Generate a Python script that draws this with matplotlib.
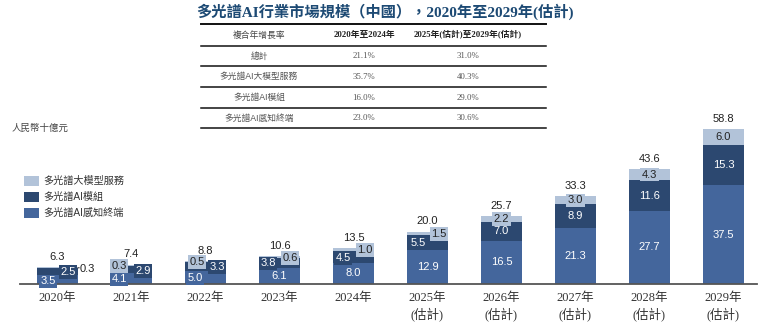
import matplotlib
matplotlib.use("Agg")
import matplotlib.pyplot as plt
import numpy as np

plt.rcParams['font.family'] = ['Liberation Sans', 'Noto Sans CJK TC', 'DejaVu Sans']

# ---------------- data ----------------
years = ["2020年", "2021年", "2022年", "2023年", "2024年",
         "2025年\n(估計)", "2026年\n(估計)", "2027年\n(估計)", "2028年\n(估計)", "2029年\n(估計)"]
terminal = [3.5, 4.1, 5.0, 6.1, 8.0, 12.9, 16.5, 21.3, 27.7, 37.5]   # 多光譜AI感知終端
module = [2.5, 2.9, 3.3, 3.8, 4.5, 5.5, 7.0, 8.9, 11.6, 15.3]       # 多光譜AI模組
service = [0.3, 0.3, 0.5, 0.6, 1.0, 1.5, 2.2, 3.0, 4.3, 6.0]        # 多光譜大模型服務
totals = [6.3, 7.4, 8.8, 10.6, 13.5, 20.0, 25.7, 33.3, 43.6, 58.8]

series_names = ["多光譜大模型服務", "多光譜AI模組", "多光譜AI感知終端"]

title = "多光譜AI行業市場規模（中國），2020年至2029年(估計)"
unit_label = "人民幣十億元"

table_header = ["複合年增長率", "2020年至2024年", "2025年(估計)至2029年(估計)"]
table_rows = ["總計", "多光譜AI大模型服務", "多光譜AI模組", "多光譜AI感知終端"]
cagr_hist = ["21.1%", "35.7%", "16.0%", "23.0%"]
cagr_fore = ["31.0%", "40.3%", "29.0%", "30.6%"]

# ---------------- styles ----------------
C_LIGHT = "#b2c3d9"
C_DARK = "#2c4870"
C_MED = "#44669c"
TITLE_C = "#1d4a74"

W, H = 764, 324
fig = plt.figure(figsize=(W / 100, H / 100), dpi=100)

# axes geometry in pixels
base_px = 284
px_per_unit = 2.636
top_px = 100
left_px, right_px = 20, 757
c0_px, step_px = 57.5, 74.0

ax = fig.add_axes([left_px / W, (H - base_px) / H, (right_px - left_px) / W, (base_px - top_px) / H])
ax.set_xlim((left_px - c0_px) / step_px, (right_px - c0_px) / step_px)
ax.set_ylim(0, (base_px - top_px) / px_per_unit)
for s in ["top", "right", "left"]:
    ax.spines[s].set_visible(False)
ax.spines["bottom"].set_color("#555555")
ax.spines["bottom"].set_linewidth(1.3)
ax.set_yticks([])

x = np.arange(len(years))
bw = 41 / step_px
terminal_a = np.array(terminal)
module_a = np.array(module)
service_a = np.array(service)
ax.bar(x, terminal_a, bw, color=C_MED, zorder=2)
ax.bar(x, module_a, bw, bottom=terminal_a, color=C_DARK, zorder=2)
ax.bar(x, service_a, bw, bottom=terminal_a + module_a, color=C_LIGHT, zorder=2)

ax.set_xticks(x)
ax.set_xticklabels(years, family=['Liberation Serif', 'Noto Sans CJK TC'], fontsize=9,
                   color="#333333", linespacing=1.25)
ax.tick_params(axis="x", length=0, pad=6)

# label offsets (pixels: dx right, dy down) for crowded small bars
offsets = {
    (0, 0): (-9.5, 2, True), (0, 1): (10.5, 0.5, True), (0, 2): (29.5, 1.2, False),
    (1, 0): (-12.5, 0.5, True), (1, 1): (11.5, 1.5, True), (1, 2): (-12.5, 1, True),
    (2, 0): (-10.5, 0.6, True), (2, 1): (11.5, 0.5, True), (2, 2): (-8.5, 0.5, True),
    (3, 1): (-11.5, 0.5, True), (3, 2): (10.5, 1, True),
    (4, 1): (-10.5, 1, True), (4, 2): (11.5, 0.3, True),
    (5, 1): (-9.5, 0, True), (5, 2): (11.5, 0.5, True),
}
seg_colors = [C_MED, C_DARK, C_LIGHT]
txt_colors = ["white", "white", "#222222"]
bottoms = [np.zeros(len(x)), terminal_a, terminal_a + module_a]
vals = [terminal_a, module_a, service_a]
for i in range(len(x)):
    for k in range(3):
        v = vals[k][i]
        yc = bottoms[k][i] + v / 2
        dx, dy, boxed = offsets.get((i, k), (0, 0, True))
        bbox = dict(boxstyle="square,pad=0.15", fc=seg_colors[k], ec="none") if boxed else None
        ax.annotate(f"{v:.1f}", (x[i], yc), xytext=(dx * 0.72, -dy * 0.72),
                    textcoords="offset points", ha="center", va="center",
                    fontsize=8, color=txt_colors[k] if boxed else "#222222",
                    bbox=bbox, zorder=4)
        if not boxed:
            ax.annotate("", (x[i] + bw / 2, yc), xytext=(x[i] + bw / 2 + 4 / step_px, yc),
                        arrowprops=dict(arrowstyle="-", color="#333333", lw=0.8), zorder=4)
    ax.annotate(f"{totals[i]:.1f}", (x[i], totals[i]), xytext=(0, 10 * 0.72),
                textcoords="offset points", ha="center", va="center",
                fontsize=8, color="#222222", zorder=4)

# ---------------- title ----------------
fig.text(385 / W, 1 - 12 / H, title, ha="center", va="center", fontsize=11,
         fontweight="bold", color=TITLE_C,
         family=['Liberation Serif', 'Noto Sans CJK TC'])

# ---------------- table ----------------
tl, tr = 201 / W, 546 / W
def hline(ypx, lw):
    fig.add_artist(plt.Line2D([tl, tr], [1 - ypx / H, 1 - ypx / H], color="#111111", lw=lw))
hline(24, 1.4)
for yy in [45.5, 66.3, 87.3, 108.3, 128.3]:
    hline(yy, 1.1)
col_x = [259 / W, 364 / W, 468 / W]
tfs = 6.3
fig.text(col_x[0], 1 - 35 / H, table_header[0], ha="center", va="center", fontsize=tfs, color="#444444",
         family=['Noto Sans CJK TC'])
for j in (1, 2):
    fig.text(col_x[j], 1 - 35 / H, table_header[j], ha="center", va="center", fontsize=tfs,
             fontweight="bold", color="#222222", family=['Liberation Serif', 'Noto Sans CJK TC'])
row_y = [56, 76.7, 97.5, 118.3]
for r in range(4):
    yy = 1 - row_y[r] / H
    fig.text(col_x[0], yy, table_rows[r], ha="center", va="center", fontsize=tfs, color="#555555",
             family=['Liberation Sans', 'Noto Sans CJK TC'])
    fig.text(col_x[1], yy, cagr_hist[r], ha="center", va="center", fontsize=tfs, color="#555555",
             family=['Liberation Serif'])
    fig.text(col_x[2], yy, cagr_fore[r], ha="center", va="center", fontsize=tfs, color="#555555",
             family=['Liberation Serif'])

# ---------------- unit label ----------------
fig.text(12 / W, 1 - 128 / H, unit_label, ha="left", va="center", fontsize=6.8, color="#444444",
         style="italic", family=['Noto Sans CJK TC'])

# ---------------- legend ----------------
leg_colors = [C_LIGHT, C_DARK, C_MED]
leg_y = [181, 197, 213]
for name, col, yy in zip(series_names, leg_colors, leg_y):
    fig.add_artist(plt.Rectangle((24 / W, 1 - (yy + 5) / H), 15 / W, 10 / H,
                                 facecolor=col, edgecolor="none", transform=fig.transFigure))
    fig.text(43 / W, 1 - yy / H, name, ha="left", va="center", fontsize=7.3, color="#333333",
             family=['Liberation Sans', 'Noto Sans CJK TC'])

fig.savefig("out.png", dpi=100)
